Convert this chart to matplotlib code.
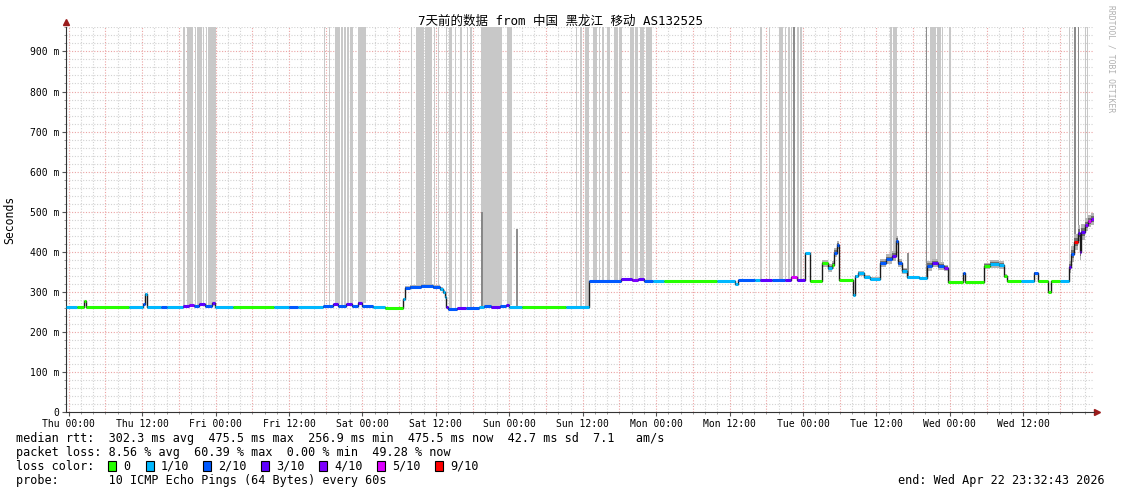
import numpy as np
import matplotlib
matplotlib.use("Agg")
import matplotlib.pyplot as plt
from matplotlib.patches import Rectangle

# time axis: hours relative to Thu 00:00, window ends Wed 23:32:43
t_start, t_end = -0.45, 167.55

# median rtt steps (start hour, value, loss level index, smoke spread)
med_t = [-0.45, 1.4, 2.5, 2.8, 9.8, 12.2, 12.5, 12.8, 15.0, 16.0,
         18.7, 19.6, 20.4, 21.3, 22.2, 23.4, 23.9, 26.9, 33.5, 36.0,
         37.5, 41.6, 43.2, 44.0, 45.3, 46.3, 47.2, 48.0, 49.8, 51.7,
         54.7, 55.0, 55.8, 57.5, 59.6, 60.7, 61.2, 61.5, 61.7, 62.0,
         63.5, 65.0, 67.0, 67.8, 69.0, 70.5, 71.5, 72.0, 74.0, 81.2,
         84.95, 90.2, 92.0, 93.0, 94.0, 95.5, 97.3, 106.0, 108.9, 109.4,
         112.2, 113.0, 115.0, 117.0, 118.0, 119.0, 120.4, 121.1, 123.1, 124.0,
         124.8, 125.1, 125.6, 125.9, 128.1, 128.5, 129.0, 130.0, 131.0, 132.6,
         133.5, 134.5, 135.2, 135.6, 136.2, 137.0, 139.0, 140.3, 141.0, 142.0,
         143.0, 143.7, 146.1, 146.4, 149.5, 150.5, 152.0, 152.8, 153.4, 155.6,
         157.8, 158.4, 160.0, 160.5, 162.0, 163.4, 163.8, 164.3, 164.9, 165.2,
         165.5, 166.0, 166.6, 167.1]
med_v = [262, 262, 276, 262, 262, 270, 294, 262, 263, 262,
         264, 267, 264, 269, 265, 272, 263, 262, 263, 262,
         263, 264, 269, 264, 270, 264, 273, 265, 262, 260,
         282, 310, 313, 314, 312, 308, 300, 288, 262, 258,
         259, 260, 262, 265, 263, 264, 268, 262, 262, 262,
         328, 332, 330, 331, 328, 328, 328, 327, 319, 330,
         330, 329, 330, 330, 336, 330, 396, 328, 371, 360,
         368, 398, 418, 330, 292, 340, 346, 338, 333, 372,
         382, 390, 428, 372, 352, 336, 334, 365, 372, 365,
         360, 325, 348, 325, 365, 370, 367, 340, 326, 328,
         348, 326, 300, 327, 327, 363, 395, 425, 448, 400,
         450, 468, 476, 482]
med_loss = [1, 0, 0, 0, 1, 2, 1, 1, 2, 1,
            3, 4, 2, 3, 2, 3, 1, 0, 1, 2,
            1, 2, 3, 2, 3, 2, 3, 2, 1, 0,
            1, 2, 2, 2, 2, 1, 1, 1, 3, 2,
            3, 2, 1, 2, 3, 2, 3, 1, 0, 1,
            2, 3, 4, 3, 2, 1, 0, 1, 1, 2,
            1, 3, 2, 3, 5, 3, 1, 0, 0, 1,
            0, 2, 2, 0, 1, 1, 1, 1, 1, 2,
            2, 3, 2, 2, 1, 1, 1, 2, 3, 2,
            4, 0, 2, 0, 0, 1, 1, 0, 0, 1,
            2, 0, 0, 0, 1, 3, 2, 6, 3, 4,
            3, 4, 5, 4]
med_sd = [0, 0, 0, 0, 0, 0, 3, 0, 0, 0,
          0, 0, 0, 0, 0, 2, 0, 0, 0, 0,
          0, 0, 0, 0, 0, 0, 2, 0, 0, 0,
          2, 4, 5, 5, 5, 5, 5, 4, 2, 0,
          0, 0, 0, 0, 0, 0, 0, 0, 0, 0,
          0, 0, 0, 0, 0, 0, 0, 0, 0, 0,
          0, 0, 0, 0, 0, 0, 0, 0, 8, 10,
          10, 12, 10, 0, 0, 3, 6, 4, 3, 10,
          12, 12, 12, 10, 8, 3, 3, 12, 10, 10,
          8, 0, 0, 0, 8, 10, 10, 5, 0, 0,
          0, 0, 0, 0, 0, 15, 20, 20, 20, 20,
          20, 15, 15, 15]

# packet loss bars (start hour, end hour), some drawn darker
bar_start = [18.71, 19.25, 20.60, 20.88, 21.86, 22.35, 22.79, 41.68, 42.57, 43.59,
             44.53, 44.95, 45.51, 46.00, 47.35, 55.41, 55.96, 56.67, 58.14, 59.66,
             60.31, 61.57, 62.11, 63.20, 64.02, 65.11, 65.65, 67.45, 67.94, 68.59,
             70.67, 71.54, 82.92, 83.63, 84.44, 85.70, 86.62, 87.17, 87.99, 89.07,
             89.89, 91.68, 92.61, 93.32, 94.41, 113.04, 113.58, 114.51, 116.14, 117.12,
             117.50, 118.06, 118.38, 119.08, 119.58, 134.28, 134.72, 140.16, 140.82, 141.10,
             141.96, 142.78, 143.92, 163.42, 164.35, 164.89, 166.03, 166.47]
bar_end = [18.92, 20.34, 20.77, 21.70, 22.03, 22.63, 24.10, 41.91, 42.73, 44.30,
           44.79, 45.34, 45.83, 46.49, 48.50, 55.52, 56.13, 58.02, 59.33, 59.89,
           60.47, 61.85, 62.60, 63.32, 64.23, 65.28, 65.82, 67.78, 68.48, 70.56,
           70.88, 72.47, 83.09, 83.91, 84.98, 86.36, 86.90, 87.55, 88.53, 89.72,
           90.44, 92.34, 92.99, 93.97, 95.34, 113.37, 113.69, 114.67, 116.68, 117.29,
           117.94, 118.22, 118.76, 119.41, 119.85, 134.56, 135.42, 140.33, 141.10, 141.80,
           142.61, 142.89, 144.25, 163.70, 164.67, 165.16, 166.19, 166.63]
bar_dark = [118.38, 140.16, 164.35, 164.89]

# single smoke spikes (hour, top value)
spike_t = [67.6, 73.3, 137.2, 157.9]
spike_top = [500, 458, 398, 350]

loss_labels = ["0", "1/10", "2/10", "3/10", "4/10", "5/10", "9/10"]
loss_colors = ["#26ff00", "#00b8ff", "#0059ff", "#5e00ff", "#7e00ff", "#dd00ff", "#ff0000"]

day_labels = ["Thu 00:00", "Thu 12:00", "Fri 00:00", "Fri 12:00", "Sat 00:00", "Sat 12:00",
              "Sun 00:00", "Sun 12:00", "Mon 00:00", "Mon 12:00", "Tue 00:00", "Tue 12:00",
              "Wed 00:00", "Wed 12:00"]

W, H = 1121, 494
mono = "DejaVu Sans Mono"
fig = plt.figure(figsize=(W / 100, H / 100), dpi=100)
ax = fig.add_axes([66 / W, 82 / H, 1028 / W, 385 / H])
ymax = 961
ax.set_xlim(t_start, t_end)
ax.set_ylim(0, ymax)

# grid
for y in range(20, ymax, 20):
    c = "#eba3a3" if y % 100 == 0 else "#d2d2d2"
    ax.axhline(y, color=c, lw=0.8, ls=(0, (1, 1.5)), zorder=0)
for h in range(0, 168, 2):
    c = "#eba3a3" if h % 6 == 0 else "#d2d2d2"
    ax.axvline(h, color=c, lw=0.8, ls=(0, (1, 1.5)), zorder=0)

med_t_arr = np.array(med_t)
med_v_arr = np.array(med_v)
ends = med_t[1:] + [t_end]


def med_at(h):
    i = np.searchsorted(med_t_arr, h, side="right") - 1
    return med_v_arr[max(i, 0)]


# loss bars
for s, e in zip(bar_start, bar_end):
    col = "#8c8c8c" if s in bar_dark else "#c8c8c8"
    b = med_at(s)
    ax.bar(s, ymax - b, width=e - s, bottom=b, align="edge", color=col, lw=0, zorder=1)

for h, top in zip(spike_t, spike_top):
    b = med_at(h)
    ax.vlines(h, b, top, color="#7a7a7a", lw=1.2, zorder=2)

# smoke around median
sd = np.array(med_sd)
tt = np.array(med_t + [t_end])
vv = np.append(med_v_arr, med_v_arr[-1])
ss = np.append(sd, sd[-1])
ax.fill_between(tt, vv - ss, vv + ss, step="post", color="#b4b4b4", lw=0, zorder=2)
ax.fill_between(tt, vv - ss * 0.5, vv + ss * 0.5, step="post", color="#6e6e6e", lw=0, zorder=2)

# median line
ax.plot(tt, vv, drawstyle="steps-post", color="#1a1a1a", lw=1.0, zorder=3)
for s, e, v, l in zip(med_t, ends, med_v, med_loss):
    ax.hlines(v, s, e, color=loss_colors[l], lw=2.2, zorder=4)

# axes
for sp in ["top", "right"]:
    ax.spines[sp].set_visible(False)
ax.spines["left"].set_color("#333333")
ax.spines["bottom"].set_color("#333333")
ax.plot([0], [1.012], marker="^", color="#9b1c1c", ms=4, transform=ax.transAxes, clip_on=False)
ax.plot([1.003], [0], marker=">", color="#9b1c1c", ms=4, transform=ax.transAxes, clip_on=False)

ax.set_yticks(range(0, 1000, 100))
ax.set_yticklabels(["0"] + ["%d m" % v for v in range(100, 1000, 100)])
ax.set_yticks(range(0, ymax, 20), minor=True)
ax.set_xticks(range(0, 157, 12))
ax.set_xticklabels(day_labels)
ax.set_xticks(range(0, 168, 2), minor=True)
ax.tick_params(axis="both", which="major", labelsize=7, length=3, color="#555555", pad=2)
ax.tick_params(axis="both", which="minor", length=1.5, color="#888888")
for lab in ax.get_xticklabels() + ax.get_yticklabels():
    lab.set_family(mono)

fig.text(10 / W, 1 - 220 / H, "Seconds", rotation=90, ha="center", va="center",
         family=mono, fontsize=8.3)
fig.text(0.5, 1 - 21 / H, "7天前的数据 from 中国 黑龙江 移动 AS132525", ha="center", va="center",
         family=[mono, "Noto Sans CJK SC"], fontsize=9)
fig.text(1111 / W, 1 - 5 / H, "RRDTOOL / TOBI OETIKER", rotation=-90, ha="center", va="top",
         family=mono, fontsize=5.8, color="#b0b0b0")

lines = [
    "median rtt:  302.3 ms avg  475.5 ms max  256.9 ms min  475.5 ms now  42.7 ms sd  7.1   am/s",
    "packet loss: 8.56 % avg  60.39 % max  0.00 % min  49.28 % now",
    "loss color:",
    "probe:       10 ICMP Echo Pings (64 Bytes) every 60s",
]
for i, txt in enumerate(lines):
    fig.text(16 / W, 1 - (438 + 14 * i) / H, txt, ha="left", va="center", family=mono, fontsize=8.5)
fig.text(1105 / W, 1 - 480 / H, "end: Wed Apr 22 23:32:43 2026", ha="right", va="center",
         family=mono, fontsize=8.5)

box_x = [108, 146, 203, 261, 319, 377, 435]
for bx, lab, col in zip(box_x, loss_labels, loss_colors):
    fig.patches.append(Rectangle((bx / W, 1 - 471 / H), 8 / W, 10 / H, facecolor=col,
                                 edgecolor="#000000", lw=0.8, transform=fig.transFigure))
    fig.text((bx + 15) / W, 1 - 466 / H, lab, ha="left", va="center", family=mono, fontsize=8.5)

fig.savefig("out.png", dpi=100)
